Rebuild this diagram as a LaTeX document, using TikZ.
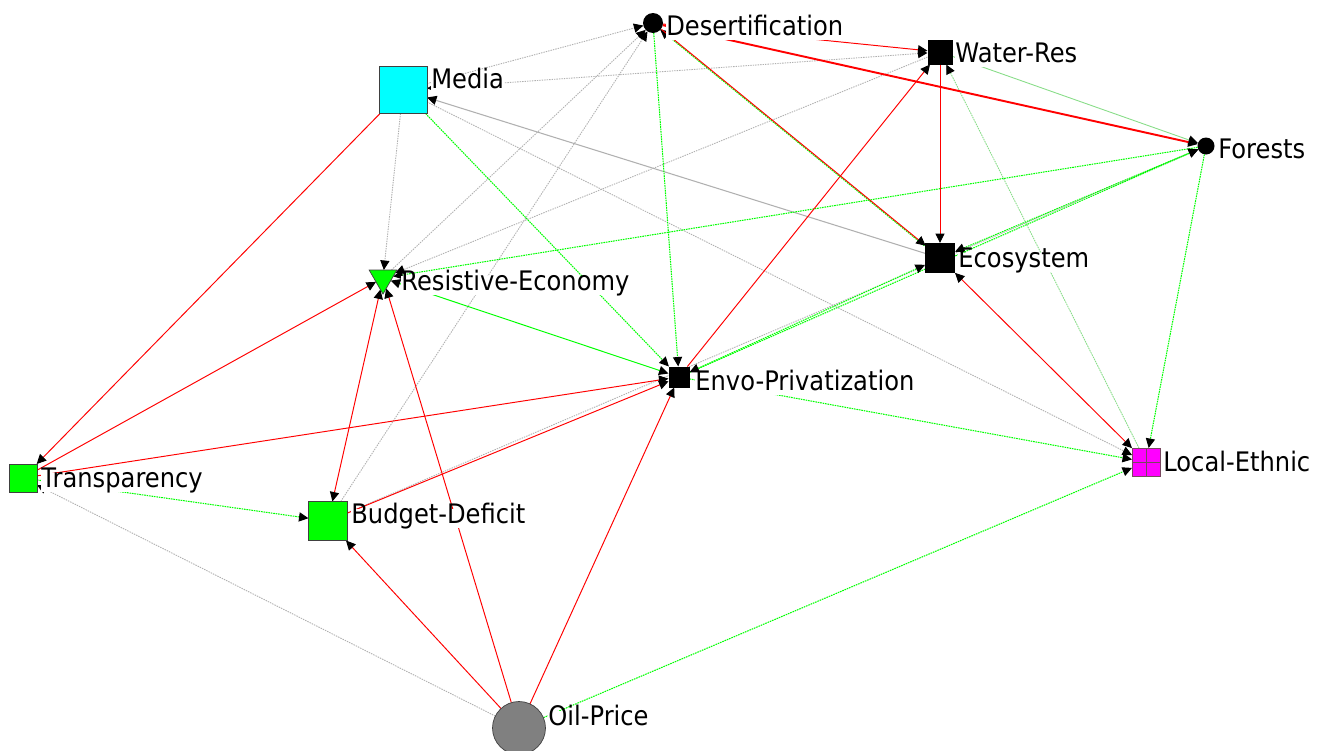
\documentclass[tikz,border=0pt]{standalone}
\usepackage{fontspec}
\setmainfont{DejaVu Sans}[FakeStretch=0.9]
\usepackage{tikz}
\usetikzlibrary{arrows.meta,shapes.geometric,backgrounds}
\definecolor{tiered}{HTML}{FF0000}
\definecolor{tiegreen}{HTML}{00FF00}
\definecolor{tiepale}{HTML}{88DD88}
\definecolor{tiegray}{HTML}{B0B0B0}
\definecolor{nodecyan}{HTML}{00FFFF}
\definecolor{nodegreen}{HTML}{00FF00}
\definecolor{nodemagenta}{HTML}{FF00FF}
\definecolor{nodegray}{HTML}{808080}

\begin{document}
\begin{tikzpicture}[x=0.02cm, y=-0.02cm,
    >={Triangle[length=5.4pt, width=5.2pt, color=black]},
    actor/.style={inner sep=0pt, outer sep=0pt},
    sqnode/.style={actor, rectangle, draw=black!75, line width=0.4pt},
    blknode/.style={actor, rectangle, fill=black},
    roundnode/.style={actor, circle, fill=black},
    lbl/.style={anchor=base west, fill=white, inner xsep=0pt, inner ysep=0.4pt,
        text height=0.74em, text depth=0.22em, font=\fontsize{15.3pt}{18pt}\selectfont},
    redtie/.style={draw=tiered, line width=0.55pt},
    thickred/.style={draw=tiered, line width=1.1pt},
    greentie/.style={draw=tiegreen, line width=0.6pt, dash pattern=on 0.9pt off 0.5pt},
    greenline/.style={draw=tiegreen, line width=0.55pt},
    paletie/.style={draw=tiepale, line width=0.5pt, dash pattern=on 0.9pt off 0.5pt},
    graytie/.style={draw=tiegray, line width=0.5pt, dash pattern=on 0.8pt off 0.6pt},
    grayline/.style={draw=tiegray, line width=0.6pt}]

    \useasboundingbox (0,0) rectangle (1320,751);

    % actors
    \node[roundnode, minimum size=0.4cm] (desert) at (653,23) {};
    \node[blknode, minimum size=0.5cm] (water) at (940,52) {};
    \node[sqnode, fill=nodecyan, minimum width=0.96cm, minimum height=0.94cm] (media) at (403,90) {};
    \node[roundnode, minimum size=0.34cm] (forest) at (1206,146) {};
    \node[blknode, minimum size=0.6cm] (eco) at (940,258) {};
    \node[actor, regular polygon, regular polygon sides=3, shape border rotate=180, fill=nodegreen, draw=black!75, line width=0.4pt, minimum size=0.64cm] (resist) at (383,278) {};
    \node[blknode, minimum size=0.42cm] (envo) at (679,377) {};
    \node[sqnode, fill=nodemagenta, draw=black!60!magenta, minimum size=0.56cm,
        path picture={\draw[black!60!magenta, line width=0.5pt] (path picture bounding box.north) -- (path picture bounding box.south)
            (path picture bounding box.west) -- (path picture bounding box.east);}] (ethnic) at (1146,462) {};
    \node[sqnode, fill=nodegreen, minimum size=0.56cm] (transp) at (23,478) {};
    \node[sqnode, fill=nodegreen, minimum size=0.78cm] (budget) at (328,521) {};
    \node[roundnode, fill=nodegray, draw=black!75, line width=0.4pt, minimum size=1.06cm] (oil) at (519,728) {};

    % labels
    \node[lbl] (desert-lbl) at (666,35) {Desertification};
    \node[lbl] (water-lbl) at (955,62) {Water-Res};
    \node[lbl] (media-lbl) at (431,88) {Media};
    \node[lbl] (forest-lbl) at (1218,158) {Forests};
    \node[lbl] (eco-lbl) at (958,267) {Ecosystem};
    \node[lbl] (resist-lbl) at (401,290) {Resistive-Economy};
    \node[lbl] (envo-lbl) at (695,390) {Envo-Privatization};
    \node[lbl] (ethnic-lbl) at (1163,471) {Local-Ethnic};
    \node[lbl] (transp-lbl) at (41,487) {Transparency};
    \node[lbl] (budget-lbl) at (351,523) {Budget-Deficit};
    \node[lbl] (oil-lbl) at (548,725) {Oil-Price};

    % ties
    \begin{scope}[on background layer]
    \fill[white] (0,0) rectangle (1320,751);
    \draw[graytie, ->] (oil) -- (transp);
    \draw[graytie, ->] (media) -- (resist);
    \draw[graytie, ->] (media) -- (desert);
    \draw[graytie, <->] (media) -- (water);
    \draw[graytie, ->] (media) -- (ethnic);
    \draw[graytie, ->] (resist) -- (desert);
    \draw[graytie, ->] (water) -- (resist);
    \draw[graytie, ->] (budget) -- (desert);
    \draw[graytie, ->] (budget) -- (forest);
    \draw[grayline, ->] (eco) -- (media);

    \draw[paletie, ->] (ethnic) -- (water);
    \draw[paletie, draw=tiepale, dash pattern=on 2pt off 0pt, ->] (water) -- (forest);
    \draw[greentie, ->] (envo) -- (ethnic);

    \draw[greentie, ->] (transp) -- (budget);
    \draw[greentie, ->] (media) -- (envo);
    \draw[greentie, ->] (desert) -- (envo);
    \draw[greentie, ->] (forest) -- (resist);
    \draw[greentie, ->] (forest) -- (ethnic);
    \draw[greentie, ->] (oil) -- (ethnic);
    \draw[greentie, <->] (eco) -- (forest);
    \draw[greentie, ->] (envo) -- (forest);
    \draw[greentie, <->] (envo) -- (eco);
    \draw[greenline, <->] (resist) -- (envo);

    \draw[redtie, ->] (media) -- (transp);
    \draw[redtie, ->] (transp) -- (resist);
    \draw[redtie, ->] (transp) -- (envo);
    \draw[redtie, ->] (oil) -- (budget);
    \draw[redtie, ->] (oil) -- (resist);
    \draw[redtie, ->] (oil) -- (envo);
    \draw[redtie, <->] (resist) -- (budget);
    \draw[redtie, ->] (budget) -- (envo);
    \draw[redtie, ->] (envo) -- (water);
    \draw[redtie, ->] (water) -- (eco);
    \draw[redtie, ->] (desert) -- (water);
    \draw[redtie, <->] (eco) -- (ethnic);
    \draw[thickred, ->] (desert) -- (forest);
    \draw[greentie, ->, transform canvas={xshift=-0.4pt}] (eco) -- (desert);
    \draw[redtie, ->, transform canvas={xshift=0.4pt}] (desert) -- (eco);
    \end{scope}
\end{tikzpicture}
\end{document}
